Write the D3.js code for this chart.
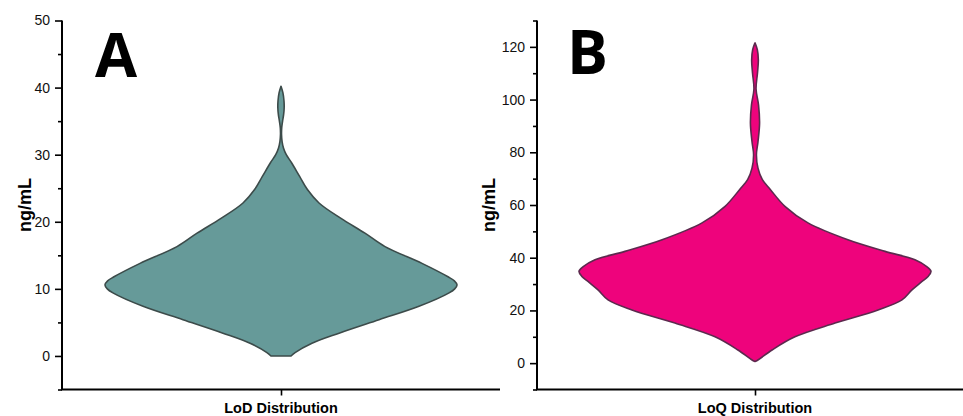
<!DOCTYPE html>
<html>
<head>
<meta charset="utf-8">
<script src="https://cdn.jsdelivr.net/npm/d3@7"></script>
<style>
  html, body { margin: 0; padding: 0; background: #fff; }
  svg { display: block; }
  .tick text { font-family: "Liberation Sans", Arial, sans-serif; }
</style>
</head>
<body>
<svg id="chart" width="963" height="416"></svg>
<script>
// ---- data ----
const panelLetters = ["A", "B"];
const categoriesA = ["LoD Distribution"];
const categoriesB = ["LoQ Distribution"];
const yTitle = "ng/mL";

// kernel density outline: concentration level (ng/mL) and relative density (max = 1)
const lodLevels  = [0, 0.5, 1.9, 3.4, 5.4, 7.4, 9.4, 10.0, 10.6, 11.2, 11.8, 13.8, 16.3, 18.3, 20.5, 22.8, 24.8, 26.8, 28.8, 30, 31, 32, 33, 34, 35, 36, 37, 38, 39.2, 40.2];
const lodDensity = [0.057, 0.08, 0.176, 0.33, 0.557, 0.784, 0.955, 0.987, 1.0, 0.985, 0.949, 0.801, 0.591, 0.477, 0.341, 0.216, 0.15, 0.105, 0.06, 0.03, 0.014, 0.006, 0.003, 0.004, 0.009, 0.015, 0.018, 0.017, 0.011, 0];

const loqLevels  = [0.6, 1.3, 5, 10, 15.2, 20.2, 24, 27.8, 31, 33, 34.8, 36.5, 39.2, 42.4, 46.8, 53.2, 59.5, 65.8, 69.6, 74, 79, 84, 91, 98, 104, 110, 115, 119, 121.5];
const loqDensity = [0, 0.019, 0.097, 0.227, 0.455, 0.699, 0.835, 0.892, 0.949, 0.985, 1.0, 0.978, 0.909, 0.739, 0.528, 0.301, 0.17, 0.088, 0.042, 0.017, 0.008, 0.017, 0.026, 0.02, 0.006, 0.014, 0.019, 0.013, 0];

const lodTicks = [0, 10, 20, 30, 40, 50];
const lodMinor = [-5, 5, 15, 25, 35, 45];
const loqTicks = [0, 20, 40, 60, 80, 100, 120];
const loqMinor = [-10, 10, 30, 50, 70, 90, 110, 130];

const panels = [
  { letter: panelLetters[0], cats: categoriesA, levels: lodLevels, density: lodDensity,
    yDomain: [-5, 50], ticks: lodTicks, minor: lodMinor,
    left: 62, right: 500, fill: "#669a99", stroke: "#3c4b4a",
    letterX: 95, letterY: 77, titleX: 25 },
  { letter: panelLetters[1], cats: categoriesB, levels: loqLevels, density: loqDensity,
    yDomain: [-10, 130], ticks: loqTicks, minor: loqMinor,
    left: 537, right: 973, fill: "#ee037c", stroke: "#5c2a4e",
    letterX: 567, letterY: 74, titleX: 489 }
];

const plotTop = 20.5, plotBottom = 389.5, halfWidth = 176;
const svg = d3.select("#chart");

panels.forEach(p => {
  const g = svg.append("g");

  const y = d3.scaleLinear().domain(p.yDomain).range([plotBottom, plotTop]);
  const x = d3.scalePoint().domain(p.cats).range([p.left, p.right]).padding(0.5);
  const w = d3.scaleLinear().domain([0, 1]).range([0, halfWidth]);

  const rows = p.levels.map((v, i) => ({ v, d: p.density[i] }));
  const cx = x(p.cats[0]);

  // violin body
  const area = d3.area()
    .y(d => y(d.v))
    .x0(d => cx - w(d.d))
    .x1(d => cx + w(d.d))
    .curve(d3.curveCatmullRom.alpha(0.5));

  g.append("path")
    .datum(rows)
    .attr("d", area)
    .attr("fill", p.fill)
    .attr("stroke", p.stroke)
    .attr("stroke-width", 1.6)
    .attr("stroke-linejoin", "round");

  // y axis: labelled majors and short minors
  const yAxis = d3.axisLeft(y).tickValues(p.ticks).tickSize(7).tickPadding(5).tickFormat(d3.format("d"));
  const ya = g.append("g").attr("transform", `translate(${p.left},0)`).call(yAxis);
  ya.select(".domain").attr("stroke-width", 2).attr("d", `M0,${plotBottom}V${plotTop}`);
  ya.selectAll(".tick line").attr("stroke-width", 1.6);
  ya.selectAll(".tick text").attr("font-size", 14).attr("fill", "#111");

  const ym = d3.axisLeft(y).tickValues(p.minor).tickSize(4).tickFormat("");
  const yma = g.append("g").attr("transform", `translate(${p.left},0)`).call(ym);
  yma.select(".domain").remove();
  yma.selectAll(".tick line").attr("stroke-width", 1.6);

  // x axis
  const xAxis = d3.axisBottom(x).tickSize(6).tickFormat("");
  const xa = g.append("g").attr("transform", `translate(0,${plotBottom})`).call(xAxis);
  xa.select(".domain").attr("stroke-width", 2).attr("d", `M${p.left - 1},0H${p.right}`);
  xa.selectAll(".tick line").attr("stroke-width", 1.6);

  g.append("text")
    .attr("x", cx).attr("y", 413)
    .attr("text-anchor", "middle")
    .attr("font-family", "Liberation Sans, Arial, sans-serif")
    .attr("font-weight", "bold").attr("font-size", 14.5)
    .text(p.cats[0]);

  // y title
  g.append("text")
    .attr("transform", `translate(${p.titleX + 6},${205}) rotate(-90)`)
    .attr("text-anchor", "middle")
    .attr("font-family", "Liberation Sans, Arial, sans-serif")
    .attr("font-weight", "bold").attr("font-size", 18)
    .text(yTitle);

  // panel letter
  g.append("text")
    .attr("x", p.letterX).attr("y", p.letterY)
    .attr("font-family", "Open Sans, sans-serif")
    .attr("font-weight", 700).attr("font-size", 61)
    .text(p.letter);
});
</script>
</body>
</html>
